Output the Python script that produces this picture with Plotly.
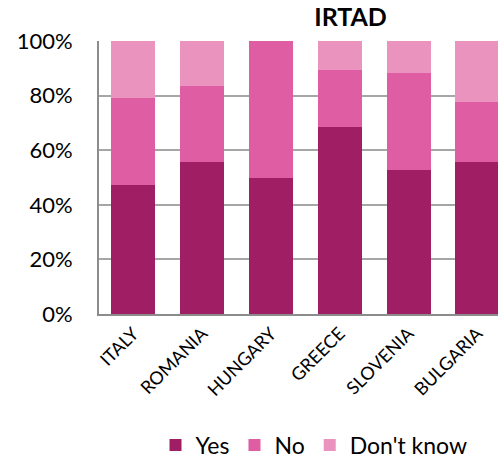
import plotly.graph_objects as go

countries = ["ITALY", "ROMANIA", "HUNGARY", "GREECE", "SLOVENIA", "BULGARIA"]
yes_vals = [47.4, 55.6, 50.0, 68.4, 52.9, 55.6]
no_vals = [31.6, 27.8, 50.0, 21.1, 35.3, 22.2]
dk_vals = [21.0, 16.6, 0.0, 10.5, 11.8, 22.2]
y_ticks = [0, 20, 40, 60, 80, 100]
y_tick_text = ["0%", "20%", "40%", "60%", "80%", "100%"]

FONT = "Lato"
colors = {"Yes": "#A01E64", "No": "#DF5DA3", "Don't know": "#EB93BF"}

fig = go.Figure()
for name, vals in [("Yes", yes_vals), ("No", no_vals), ("Don't know", dk_vals)]:
    fig.add_trace(go.Bar(
        x=countries, y=vals, name=name,
        marker=dict(color=colors[name], line=dict(width=0)),
        width=0.64,
    ))

fig.update_layout(
    barmode="stack",
    width=498, height=462,
    margin=dict(l=99, r=0, t=41, b=148, pad=0),
    paper_bgcolor="white", plot_bgcolor="white",
    font=dict(family=FONT, color="#000000"),
    title=dict(text="IRTAD", x=314/498, xanchor="center", xref="paper",
               y=1 - 17/462, yref="container", yanchor="middle",
               font=dict(family=FONT, size=25, weight="bold", color="#000000")),
    showlegend=True,
    legend=dict(orientation="h", x=314/498, xanchor="center", xref="container",
                y=1 - 445/462, yref="container", yanchor="middle",
                traceorder="normal",
                font=dict(family=FONT, size=23, color="#000000"),
                itemwidth=30, tracegroupgap=0),
    bargap=0.36,
)
fig.update_xaxes(
    range=[-0.5, 5.30], tickangle=-45, tickfont=dict(family=FONT, size=18),
    showline=True, linecolor="#8C8C8C", linewidth=2, ticks="", showgrid=False,
)
fig.update_yaxes(
    range=[0, 100], tickvals=y_ticks, ticktext=y_tick_text,
    tickfont=dict(family=FONT, size=22), ticklabelstandoff=20,
    showline=True, linecolor="#8C8C8C", linewidth=2,
    showgrid=True, gridcolor="#A6A6A6", gridwidth=1.5, zeroline=False, ticks="",
)
fig.write_html("out.html")
